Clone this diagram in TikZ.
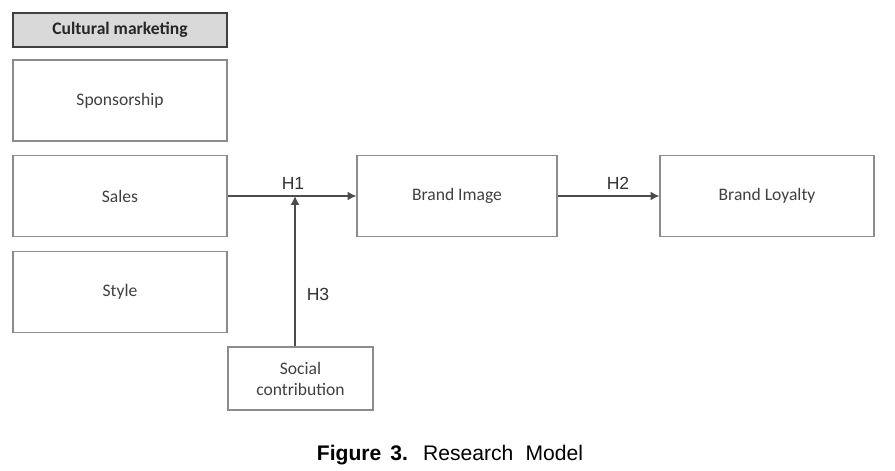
\documentclass[tikz,border=0pt]{standalone}
\usepackage{fontspec}
\setmainfont{Carlito}
\newfontfamily\arialfont{Liberation Sans}
\usepackage{xcolor}
\usetikzlibrary{arrows.meta, positioning}

\definecolor{boxline}{HTML}{8C8C8C}
\definecolor{boxtext}{HTML}{404040}
\definecolor{headfill}{HTML}{D9D9D9}

\tikzset{
    varbox/.style={draw=boxline, line width=0.7pt, rectangle, fill=white, text=boxtext,
        font=\fontsize{10}{12}\selectfont, align=center},
    headbox/.style={draw=black!75, line width=1.3pt, rectangle, fill=headfill, text=black!85,
        font=\fontsize{10}{12}\selectfont\bfseries},
    link/.style={draw=black!70, line width=0.7pt, -{Latex[length=5pt, width=5pt]}},
    hyp/.style={text=black!80, font=\arialfont\fontsize{10}{12}\selectfont}
}

\begin{document}
\begin{tikzpicture}[x=0.02cm, y=-0.02cm]
    \useasboundingbox (0,0) rectangle (895,470);

    % Cultural marketing block
    \node[headbox, minimum width=4.28cm, minimum height=0.68cm] (cm) at (120,30) {Cultural marketing};
    \node[varbox, minimum width=4.28cm, minimum height=1.62cm] (spons) at (120,100.5) {Sponsorship};
    \node[varbox, minimum width=4.28cm, minimum height=1.62cm] (sales) at (120,196) {Sales};
    \node[varbox, minimum width=4.28cm, minimum height=1.62cm] (style) at (120,292) {Style};

    % Moderator
    \node[varbox, minimum width=2.9cm, minimum height=1.26cm] (social) at (300.5,378.5) {Social\\contribution};

    % Outcomes
    \node[varbox, minimum width=4.0cm, minimum height=1.62cm] (image) at (457,196) {Brand Image};
    \node[varbox, minimum width=4.28cm, minimum height=1.62cm] (loyalty) at (767,196) {Brand Loyalty};

    % Paths
    \draw[link] (sales) -- (image);
    \coordinate (join) at (295,196);
    \draw[link] (social.north -| join) -- (join);
    \draw[link] (image) -- (loyalty);

    % Hypotheses
    \node[hyp] (h1) at (293,183) {H1};
    \node[hyp] (h2) at (618,183) {H2};
    \node[hyp] (h3) at (318,294) {H3};

    % Caption
    \node[font=\arialfont\fontsize{12}{14}\selectfont] (cap) at (450,455)
        {\textbf{Figure\hspace{0.15em} 3.}\hspace{0.35em} Research\hspace{0.3em} Model};
\end{tikzpicture}
\end{document}
